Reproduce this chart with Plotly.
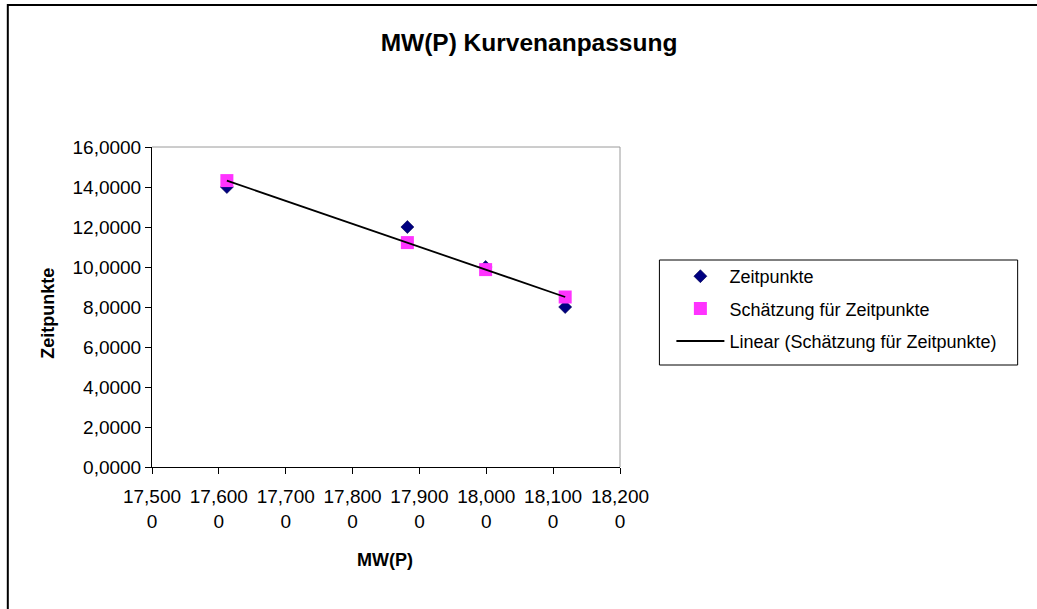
import plotly.graph_objects as go

# Measured molecular weights (x) and time points (y)
mw = [17.612, 17.882, 17.999, 18.118]
zeitpunkte = [14.0, 12.0, 10.0, 8.0]
schaetzung = [14.32, 11.22, 9.87, 8.50]

x_ticks = [17.5, 17.6, 17.7, 17.8, 17.9, 18.0, 18.1, 18.2]
y_ticks = [0, 2, 4, 6, 8, 10, 12, 14, 16]


def de_num(v):
    return f"{v:.4f}".replace(".", ",")


# x labels wrap onto two lines (last digit on its own line)
x_ticktext = [de_num(v)[:-1] + "<br>" + de_num(v)[-1] for v in x_ticks]
y_ticktext = [de_num(v) for v in y_ticks]

FONT = "Liberation Sans, Arial, sans-serif"
W, H = 1037, 609
L, R, T, B = 151.5, 620.5, 147, 467  # plot area in pixels


def px(xp):
    return (xp - L) / (R - L)


def py(yp):
    return (B - yp) / (B - T)


fig = go.Figure()
fig.add_trace(go.Scatter(
    x=mw, y=zeitpunkte, mode="markers", name="Zeitpunkte",
    legendgroup="a",
    marker=dict(symbol="diamond", size=10, color="#000080",
                line=dict(width=0.6, color="#000050")),
))
fig.add_trace(go.Scatter(
    x=mw, y=schaetzung, mode="markers", name="Schätzung für Zeitpunkte",
    legendgroup="b",
    marker=dict(symbol="square", size=13, color="#FF33FF", line=dict(width=0)),
))
fig.add_trace(go.Scatter(
    x=mw, y=schaetzung, mode="lines", name="Linear (Schätzung für Zeitpunkte)",
    legendgroup="c",
    line=dict(color="black", width=1.8),
))

axis_common = dict(showgrid=False, zeroline=False, ticks="outside", ticklen=6,
                   tickwidth=1, tickcolor="black", showline=True, linecolor="black",
                   linewidth=1, tickfont=dict(family=FONT, size=19, color="black"))

fig.update_layout(
    width=W, height=H,
    margin=dict(l=L, r=W - R, t=T, b=H - B, pad=0),
    paper_bgcolor="white", plot_bgcolor="white",
    font=dict(family=FONT, color="black"),
    title=dict(text="<b>MW(P) Kurvenanpassung</b>", x=529 / W, xref="container",
               xanchor="center", y=1 - 42 / H, yref="container", yanchor="middle",
               font=dict(family=FONT, size=24.5, color="black")),
    xaxis=dict(range=[17.5, 18.2], tickvals=x_ticks, ticktext=x_ticktext,
               ticklabelstandoff=6, **axis_common),
    yaxis=dict(range=[0, 16], tickvals=y_ticks, ticktext=y_ticktext, **axis_common),
    # companion axes supplying the inner half of the crossing tick marks
    xaxis2=dict(overlaying="x", side="bottom", range=[17.5, 18.2], tickvals=x_ticks,
                ticks="inside", ticklen=6, tickcolor="black", showticklabels=False,
                showgrid=False, zeroline=False, showline=False),
    yaxis2=dict(overlaying="y", side="left", range=[0, 16], tickvals=y_ticks,
                ticks="inside", ticklen=6, tickcolor="black", showticklabels=False,
                showgrid=False, zeroline=False, showline=False),
    showlegend=True,
    legend=dict(x=px(672), y=py(258), xanchor="left", yanchor="top",
                traceorder="grouped", tracegroupgap=6, borderwidth=0,
                itemwidth=48, bgcolor="rgba(0,0,0,0)",
                font=dict(family=FONT, size=18, color="black")),
    annotations=[
        dict(text="<b>MW(P)</b>", x=px(385), y=py(560), xref="paper", yref="paper",
             showarrow=False, xanchor="center", yanchor="middle",
             font=dict(family=FONT, size=18, color="black")),
        dict(text="<b>Zeitpunkte</b>", x=px(47), y=py(313), xref="paper", yref="paper",
             showarrow=False, xanchor="center", yanchor="middle", textangle=-90,
             font=dict(family=FONT, size=18, color="black")),
    ],
    shapes=[
        # grey frame on the top and right of the plot area
        dict(type="line", xref="paper", yref="paper", x0=0, x1=1, y0=1, y1=1,
             line=dict(color="#9a9a9a", width=1)),
        dict(type="line", xref="paper", yref="paper", x0=1, x1=1, y0=0, y1=1,
             line=dict(color="#9a9a9a", width=1)),
        # legend frame
        dict(type="rect", xref="paper", yref="paper", x0=px(660), x1=px(1019),
             y0=py(365), y1=py(260), line=dict(color="black", width=1)),
        # chart area border
        dict(type="rect", xref="paper", yref="paper", x0=px(7), x1=px(1060),
             y0=py(640), y1=py(5), line=dict(color="black", width=2)),
    ],
)

fig.write_html("out.html")
